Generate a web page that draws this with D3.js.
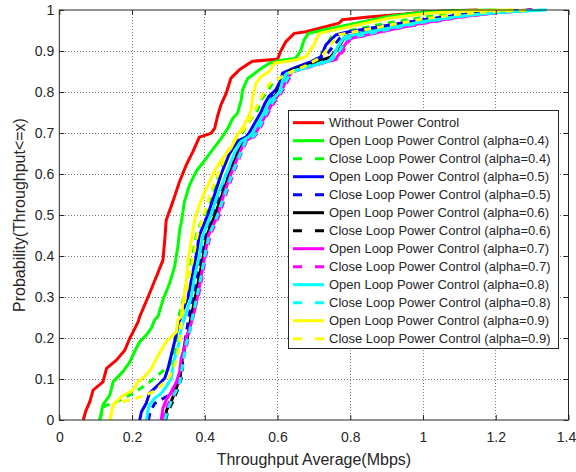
<!DOCTYPE html>
<html>
<head>
<meta charset="utf-8">
<script src="https://cdn.jsdelivr.net/npm/d3@7"></script>
<style>
    body { margin: 0; background: #fff; }
    text { font-family: "Liberation Sans", Arial, sans-serif; fill: #262626; }
</style>
</head>
<body>
<svg id="SVG_CONTAINER" width="576" height="472"></svg>
<script>
let d3 = window.d3;

// tick labels
const xTicks = [0, 0.2, 0.4, 0.6, 0.8, 1, 1.2, 1.4];
const yTicks = [0, 0.1, 0.2, 0.3, 0.4, 0.5, 0.6, 0.7, 0.8, 0.9, 1];

const seriesNames = [
    "Without Power Control",
    "Open Loop Power Control (alpha=0.4)",
    "Close Loop Power Control (alpha=0.4)",
    "Open Loop Power Control (alpha=0.5)",
    "Close Loop Power Control (alpha=0.5)",
    "Open Loop Power Control (alpha=0.6)",
    "Close Loop Power Control (alpha=0.6)",
    "Open Loop Power Control (alpha=0.7)",
    "Close Loop Power Control (alpha=0.7)",
    "Open Loop Power Control (alpha=0.8)",
    "Close Loop Power Control (alpha=0.8)",
    "Open Loop Power Control (alpha=0.9)",
    "Close Loop Power Control (alpha=0.9)"
];

// CDF points [throughput, probability]
const noPC = [[0.066,0],[0.072,0.02],[0.084,0.045],[0.093,0.073],[0.12,0.093],[0.13,0.126],[0.157,0.146],[0.18,0.17],[0.194,0.2],[0.203,0.215],[0.217,0.24],[0.221,0.252],[0.244,0.3],[0.267,0.35],[0.285,0.39],[0.29,0.44],[0.294,0.488],[0.299,0.5],[0.312,0.532],[0.33,0.58],[0.349,0.622],[0.367,0.654],[0.385,0.69],[0.417,0.699],[0.427,0.711],[0.436,0.744],[0.445,0.77],[0.459,0.797],[0.472,0.834],[0.495,0.854],[0.522,0.87],[0.531,0.875],[0.6,0.88],[0.609,0.9],[0.623,0.923],[0.646,0.943],[0.678,0.947],[0.769,0.968],[0.778,0.976],[0.85,0.983],[0.95,0.99],[1.0,0.995],[1.08,0.998],[1.15,1.0]];

const open04 = [[0.111,0],[0.12,0.037],[0.139,0.061],[0.148,0.093],[0.175,0.118],[0.194,0.142],[0.207,0.167],[0.221,0.191],[0.239,0.207],[0.253,0.224],[0.262,0.244],[0.271,0.252],[0.285,0.293],[0.303,0.333],[0.317,0.374],[0.326,0.423],[0.331,0.463],[0.337,0.49],[0.344,0.532],[0.358,0.573],[0.376,0.606],[0.404,0.638],[0.417,0.654],[0.445,0.687],[0.463,0.711],[0.477,0.736],[0.49,0.748],[0.5,0.78],[0.504,0.805],[0.518,0.833],[0.55,0.854],[0.577,0.87],[0.614,0.878],[0.65,0.882],[0.664,0.902],[0.673,0.927],[0.685,0.943],[0.72,0.95],[0.769,0.959],[0.906,0.984],[1.0,0.995],[1.1,0.999],[1.2,1.0]];

const close04 = [[0.111,0],[0.118,0.02],[0.125,0.035],[0.143,0.039],[0.17,0.05],[0.194,0.061],[0.22,0.075],[0.245,0.09],[0.267,0.106],[0.285,0.12],[0.303,0.134],[0.315,0.15],[0.322,0.2],[0.328,0.25],[0.342,0.3],[0.353,0.35],[0.366,0.4],[0.378,0.456],[0.398,0.5],[0.418,0.534],[0.438,0.6],[0.465,0.646],[0.49,0.68],[0.514,0.717],[0.545,0.756],[0.558,0.785],[0.572,0.8],[0.586,0.822],[0.605,0.832],[0.625,0.846],[0.655,0.86],[0.7,0.876],[0.728,0.9],[0.748,0.935],[0.8,0.95],[0.9,0.968],[1.0,0.982],[1.1,0.993],[1.22,1.0]];

const open05 = [[0.221,0],[0.226,0.02],[0.239,0.041],[0.248,0.065],[0.262,0.077],[0.276,0.089],[0.29,0.102],[0.299,0.126],[0.308,0.159],[0.317,0.191],[0.322,0.211],[0.326,0.232],[0.335,0.252],[0.345,0.28],[0.354,0.3],[0.365,0.35],[0.376,0.4],[0.385,0.45],[0.408,0.5],[0.427,0.55],[0.445,0.6],[0.468,0.65],[0.49,0.68],[0.513,0.69],[0.522,0.7],[0.541,0.73],[0.554,0.75],[0.564,0.77],[0.577,0.79],[0.595,0.805],[0.609,0.829],[0.614,0.846],[0.65,0.86],[0.687,0.872],[0.719,0.886],[0.733,0.915],[0.76,0.939],[0.796,0.947],[0.9,0.962],[1.0,0.976],[1.1,0.988],[1.2,0.996],[1.3,1.0]];

const close05 = [[0.245,0],[0.25,0.02],[0.262,0.04],[0.28,0.05],[0.303,0.061],[0.318,0.08],[0.33,0.097],[0.337,0.13],[0.342,0.16],[0.347,0.2],[0.356,0.25],[0.367,0.3],[0.379,0.35],[0.39,0.4],[0.4,0.45],[0.42,0.5],[0.44,0.55],[0.46,0.6],[0.485,0.65],[0.503,0.68],[0.526,0.692],[0.538,0.705],[0.56,0.74],[0.575,0.77],[0.59,0.795],[0.606,0.815],[0.62,0.838],[0.66,0.858],[0.7,0.872],[0.738,0.895],[0.772,0.932],[0.9,0.958],[1.0,0.975],[1.1,0.987],[1.2,0.995],[1.31,1.0]];

const open06 = [[0.29,0],[0.295,0.024],[0.31,0.05],[0.322,0.078],[0.333,0.11],[0.338,0.15],[0.346,0.19],[0.352,0.2],[0.362,0.25],[0.374,0.3],[0.385,0.35],[0.396,0.4],[0.406,0.45],[0.428,0.5],[0.448,0.55],[0.468,0.6],[0.49,0.65],[0.505,0.68],[0.525,0.69],[0.535,0.7],[0.566,0.75],[0.585,0.78],[0.6,0.8],[0.618,0.83],[0.632,0.85],[0.67,0.862],[0.71,0.874],[0.745,0.885],[0.765,0.905],[0.785,0.935],[0.9,0.954],[1.0,0.972],[1.1,0.985],[1.2,0.994],[1.3,1.0]];

const close06 = [[0.292,0],[0.298,0.02],[0.312,0.045],[0.326,0.075],[0.336,0.105],[0.341,0.15],[0.349,0.19],[0.355,0.2],[0.365,0.25],[0.377,0.3],[0.388,0.35],[0.4,0.4],[0.41,0.45],[0.432,0.5],[0.452,0.55],[0.472,0.6],[0.494,0.65],[0.508,0.68],[0.528,0.69],[0.539,0.7],[0.569,0.75],[0.588,0.78],[0.604,0.8],[0.622,0.83],[0.636,0.85],[0.675,0.862],[0.714,0.873],[0.75,0.884],[0.77,0.905],[0.79,0.933],[0.9,0.952],[1.0,0.97],[1.1,0.984],[1.2,0.994],[1.31,1.0]];

const open07 = [[0.28,0],[0.285,0.029],[0.294,0.049],[0.308,0.069],[0.322,0.093],[0.331,0.118],[0.335,0.15],[0.344,0.175],[0.349,0.2],[0.358,0.224],[0.367,0.248],[0.38,0.3],[0.39,0.35],[0.4,0.4],[0.41,0.45],[0.436,0.5],[0.452,0.55],[0.472,0.6],[0.495,0.65],[0.51,0.68],[0.53,0.69],[0.54,0.7],[0.572,0.75],[0.59,0.78],[0.61,0.8],[0.625,0.83],[0.64,0.85],[0.68,0.86],[0.72,0.87],[0.76,0.88],[0.775,0.9],[0.796,0.93],[0.9,0.95],[1.0,0.968],[1.1,0.983],[1.2,0.993],[1.3,1.0]];

const close07 = [[0.285,0],[0.29,0.02],[0.3,0.04],[0.315,0.065],[0.328,0.09],[0.336,0.12],[0.34,0.15],[0.35,0.18],[0.355,0.2],[0.365,0.25],[0.382,0.3],[0.393,0.35],[0.403,0.4],[0.415,0.45],[0.44,0.5],[0.458,0.55],[0.478,0.6],[0.5,0.65],[0.515,0.68],[0.535,0.69],[0.545,0.7],[0.575,0.75],[0.595,0.78],[0.612,0.8],[0.63,0.83],[0.645,0.85],[0.685,0.86],[0.722,0.87],[0.762,0.88],[0.78,0.9],[0.8,0.93],[0.9,0.95],[1.0,0.967],[1.1,0.982],[1.2,0.993],[1.3,1.0]];

const open08 = [[0.24,0],[0.243,0.02],[0.248,0.037],[0.262,0.053],[0.28,0.065],[0.294,0.081],[0.308,0.102],[0.312,0.126],[0.317,0.15],[0.326,0.175],[0.331,0.2],[0.335,0.224],[0.344,0.248],[0.363,0.3],[0.372,0.35],[0.385,0.4],[0.395,0.45],[0.417,0.5],[0.436,0.55],[0.459,0.6],[0.481,0.65],[0.5,0.68],[0.52,0.69],[0.531,0.7],[0.564,0.75],[0.58,0.78],[0.595,0.79],[0.605,0.8],[0.615,0.83],[0.625,0.845],[0.66,0.855],[0.7,0.865],[0.74,0.875],[0.755,0.89],[0.765,0.91],[0.785,0.935],[0.9,0.955],[1.0,0.972],[1.1,0.985],[1.2,0.994],[1.34,1.0]];

const close08 = [[0.29,0],[0.3,0.03],[0.315,0.06],[0.33,0.085],[0.335,0.11],[0.342,0.15],[0.35,0.19],[0.356,0.2],[0.366,0.25],[0.378,0.3],[0.39,0.35],[0.4,0.4],[0.412,0.45],[0.435,0.5],[0.455,0.55],[0.475,0.6],[0.498,0.65],[0.512,0.68],[0.532,0.69],[0.542,0.7],[0.57,0.75],[0.59,0.78],[0.608,0.8],[0.625,0.83],[0.64,0.85],[0.68,0.862],[0.72,0.872],[0.75,0.88],[0.77,0.9],[0.79,0.93],[0.9,0.952],[1.0,0.97],[1.1,0.984],[1.2,0.994],[1.33,1.0]];

const open09 = [[0.139,0],[0.148,0.037],[0.171,0.057],[0.203,0.073],[0.217,0.093],[0.239,0.11],[0.253,0.126],[0.267,0.15],[0.28,0.17],[0.294,0.191],[0.308,0.203],[0.322,0.215],[0.326,0.244],[0.335,0.252],[0.34,0.285],[0.349,0.333],[0.354,0.39],[0.363,0.439],[0.372,0.488],[0.385,0.524],[0.4,0.557],[0.413,0.581],[0.431,0.614],[0.449,0.638],[0.472,0.663],[0.49,0.695],[0.509,0.72],[0.522,0.744],[0.527,0.756],[0.532,0.789],[0.541,0.821],[0.554,0.837],[0.577,0.85],[0.591,0.87],[0.65,0.878],[0.678,0.886],[0.7,0.915],[0.714,0.943],[0.769,0.954],[0.906,0.98],[1.016,0.992],[1.13,0.998],[1.25,1.0]];

const close09 = [[0.139,0],[0.145,0.02],[0.15,0.04],[0.175,0.045],[0.212,0.053],[0.24,0.062],[0.262,0.07],[0.28,0.085],[0.3,0.1],[0.31,0.12],[0.32,0.14],[0.327,0.17],[0.332,0.2],[0.337,0.25],[0.347,0.3],[0.357,0.35],[0.369,0.4],[0.379,0.45],[0.397,0.5],[0.414,0.55],[0.437,0.6],[0.459,0.65],[0.484,0.685],[0.513,0.715],[0.533,0.745],[0.548,0.775],[0.563,0.8],[0.578,0.82],[0.608,0.835],[0.64,0.85],[0.68,0.865],[0.72,0.885],[0.75,0.92],[0.77,0.94],[0.9,0.962],[1.0,0.978],[1.1,0.99],[1.2,0.997],[1.3,1.0]];

const seriesData = [noPC, open04, close04, open05, close05, open06, close06,
                    open07, close07, open08, close08, open09, close09];

const COLORS = ["#ff0000", "#00ff00", "#00ff00", "#0000ff", "#0000ff", "#000000", "#000000",
                "#ff00ff", "#ff00ff", "#00ffff", "#00ffff", "#ffff00", "#ffff00"];

const MARGIN = {
    "LEFT": 59.3,
    "RIGHT": 7.5,
    "TOP": 10,
    "BOTTOM": 52,
};

const   width  = 576,
        height = 472;

window.onload = function () {
    let svg = d3.select("#SVG_CONTAINER");

    let xScale = d3.scaleLinear()
        .domain([0, 1.4])
        .range([MARGIN.LEFT, width - MARGIN.RIGHT]);

    let yScale = d3.scaleLinear()
        .domain([0, 1])
        .range([height - MARGIN.BOTTOM, MARGIN.TOP]);

    let x0 = xScale(0), x1 = xScale(1.4), y0 = yScale(0), y1 = yScale(1);

    //grid
    let grid = svg.append("g").attr("class", "grid");
    grid.selectAll("line.gx")
        .data(xTicks.slice(1, -1))
        .enter()
        .append("line")
            .attr("x1", d => xScale(d)).attr("x2", d => xScale(d))
            .attr("y1", y0).attr("y2", y1);
    grid.selectAll("line.gy")
        .data(yTicks.slice(1, -1))
        .enter()
        .append("line")
            .attr("x1", x0).attr("x2", x1)
            .attr("y1", d => yScale(d)).attr("y2", d => yScale(d));
    grid.selectAll("line")
        .style("stroke", "#555")
        .style("stroke-width", 0.8)
        .style("stroke-dasharray", "1,2")
        .style("shape-rendering", "crispEdges");

    //curves
    let line = d3.line()
        .x(d => xScale(d[0]))
        .y(d => yScale(d[1]));

    svg.append("g")
        .attr("class", "curves")
        .selectAll("path")
        .data(seriesData)
        .enter()
        .append("path")
            .attr("d", d => line(d))
            .attr("fill", "none")
            .attr("stroke", (d, i) => COLORS[i])
            .attr("stroke-width", 3)
            .attr("stroke-linejoin", "round")
            .attr("stroke-dasharray", (d, i) => (i > 0 && i % 2 === 0) ? "7,6" : null);

    //axes, ticks inside like matlab
    let fmt = d => String(d);
    let styleAxis = function (g) {
        g.select(".domain").remove();
        g.selectAll("line").attr("stroke", "#262626");
        g.selectAll("text")
            .style("font-family", "'Liberation Sans', Arial, sans-serif")
            .style("font-size", "14px")
            .attr("fill", "#262626");
    };

    let xAxisG = svg.append("g")
        .attr("transform", "translate(0," + y0 + ")")
        .call(d3.axisBottom(xScale).tickValues(xTicks).tickFormat(fmt).tickSize(-5).tickPadding(12))
        .call(styleAxis);
    // keep the last label inside the window
    xAxisG.selectAll(".tick text").filter(d => d === 1.4).attr("dx", "-2.5");

    svg.append("g")
        .attr("transform", "translate(0," + y1 + ")")
        .call(d3.axisTop(xScale).tickValues(xTicks).tickFormat("").tickSize(-5))
        .call(styleAxis);
    svg.append("g")
        .attr("transform", "translate(" + x0 + ",0)")
        .call(d3.axisLeft(yScale).tickValues(yTicks).tickFormat(fmt).tickSize(-5).tickPadding(5))
        .call(styleAxis);
    svg.append("g")
        .attr("transform", "translate(" + x1 + ",0)")
        .call(d3.axisRight(yScale).tickValues(yTicks).tickFormat("").tickSize(-5))
        .call(styleAxis);

    //box
    svg.append("rect")
        .attr("x", x0).attr("y", y1)
        .attr("width", x1 - x0).attr("height", y0 - y1)
        .attr("fill", "none")
        .attr("stroke", "#262626")
        .attr("stroke-width", 1);

    //legend
    let legend = svg.append("g").attr("class", "legend");
    legend.append("rect")
        .attr("x", 288.5).attr("y", 110.5)
        .attr("width", 270).attr("height", 238)
        .attr("fill", "#fff")
        .attr("stroke", "#262626");

    let rows = legend.selectAll("g.row")
        .data(seriesNames)
        .enter()
        .append("g")
            .attr("transform", (d, i) => "translate(0," + (122.7 + 18 * i) + ")");
    rows.append("line")
        .attr("x1", 293).attr("x2", 324)
        .attr("stroke", (d, i) => COLORS[i])
        .attr("stroke-width", 3)
        .attr("stroke-dasharray", (d, i) => (i > 0 && i % 2 === 0) ? "9,13" : null);
    rows.append("text")
        .attr("x", 329)
        .attr("dy", "0.35em")
        .style("font-size", "13px")
        .text(d => d);

    //x axis label
    svg.append("text")
        .attr("x", (x0 + x1) / 2)
        .attr("y", 465)
        .attr("text-anchor", "middle")
        .style("font-size", "16px")
        .text("Throughput Average(Mbps)");

    //y axis label
    svg.append("text")
        .attr("transform", "translate(25," + ((y0 + y1) / 2) + ")rotate(-90)")
        .attr("text-anchor", "middle")
        .style("font-size", "16px")
        .text("Probability(Throughput<=x)");
};
</script>
</body>
</html>
